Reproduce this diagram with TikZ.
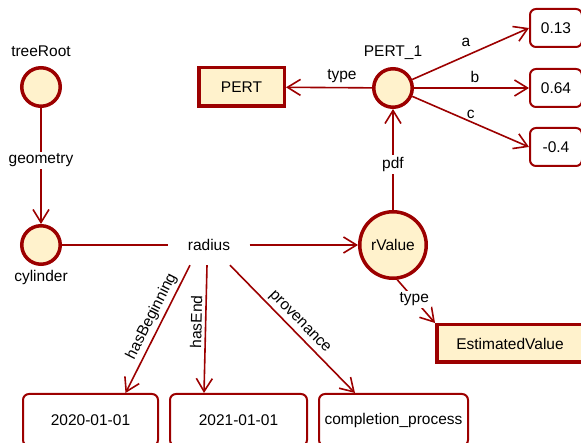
\documentclass[tikz,border=0pt]{standalone}
\usepackage{fontspec}
\setmainfont{Liberation Sans}
\usetikzlibrary{arrows.meta}
\definecolor{dred}{HTML}{9C0000}
\definecolor{cream}{HTML}{FFF2CC}
\begin{document}
\begin{tikzpicture}[x=1pt,y=-1pt,
  font=\fontsize{15.5}{18}\selectfont,
  inst/.style={circle, draw=dred, fill=cream, line width=3.5pt, minimum size=38.5pt, inner sep=0pt},
  cls/.style={rectangle, draw=dred, fill=cream, line width=3.5pt, inner sep=0pt},
  lit/.style={rectangle, rounded corners=6pt, draw=dred, fill=white, line width=2pt, inner sep=0pt},
  edgeline/.style={draw=dred, line width=1.6pt},
  arr/.style={edgeline, -{Straight Barb[length=13pt, width=16pt]}},
  lbl/.style={fill=white, inner sep=2pt, text=black}
]
\useasboundingbox (0,0) rectangle (581,443);

% instance circles
\node[inst] (tree) at (41,87) {};
\node[anchor=base] (treeL) at (41,57) {treeRoot};
\node[inst] (cyl) at (41,245) {};
\node[anchor=base] (cylL) at (41,282) {cylinder};
\node[inst] (p1) at (393,88) {};
\node[anchor=base] (p1L) at (393,57) {PERT\_1};
\node[inst, minimum size=66.5pt] (rv) at (393,245) {rValue};

% reified property node
\node[minimum width=81pt, minimum height=40pt, inner sep=0pt] (rad) at (209,245) {radius};

% classes
\node[cls, minimum width=85.5pt, minimum height=38.5pt] (pert) at (241.5,87) {PERT};
\node[cls, minimum width=146.5pt, minimum height=37.5pt] (ev) at (510,343.5) {EstimatedValue};

% literals
\node[lit, minimum width=52pt, minimum height=38pt] (v1) at (556,28) {0.13};
\node[lit, minimum width=52pt, minimum height=38pt] (v2) at (556,88) {0.64};
\node[lit, minimum width=52pt, minimum height=38pt] (v3) at (556,147) {-0.4};
\node[lit, minimum width=135pt, minimum height=52pt] (d1) at (90.5,420) {2020-01-01};
\node[lit, minimum width=137pt, minimum height=52pt] (d2) at (238.5,420) {2021-01-01};
\node[lit, minimum width=149pt, minimum height=52pt] (d3) at (393.5,420) {completion\_process};

% connectors
\draw[arr] (tree) -- node[lbl, pos=0.45] (geoL) {geometry} (cyl);
\draw[edgeline] (cyl) -- (rad);
\draw[arr] (rad) -- (rv);
\draw[arr] (rv) -- node[lbl, pos=0.45] (pdfL) {pdf} (p1);
\draw[arr] (p1) -- node[above=2pt, pos=0.35, inner sep=2pt] (typeL1) {type} (pert);
\draw[arr] (p1) -- node[above=6.8pt, pos=0.46, inner sep=2pt] (aL) {a} (v1.west);
\draw[arr] (p1) -- node[above=3pt, pos=0.53, inner sep=2pt] (bL) {b} (v2.west);
\draw[arr] (p1) -- node[above=0pt, pos=0.5, inner sep=2pt] (cL) {c} (v3.west);
\draw[arr] (rv.-83) -- node[lbl, pos=0.45] (typeL2) {type} (ev.north west);
\draw[arr] ([xshift=-19pt]rad.south) -- node[above=1pt, sloped, pos=0.44, inner sep=2pt] (hbL) {hasBeginning} ([xshift=35pt]d1.north);
\draw[arr] ([xshift=-2pt]rad.south) -- node[above=1pt, sloped, pos=0.445, inner sep=2pt] (heL) {hasEnd} ([xshift=-34.5pt]d2.north);
\draw[arr] ([xshift=21pt]rad.south) -- node[above=1pt, sloped, pos=0.5, inner sep=2pt] (prL) {provenance} ([xshift=-38.5pt]d3.north);
\end{tikzpicture}
\end{document}
